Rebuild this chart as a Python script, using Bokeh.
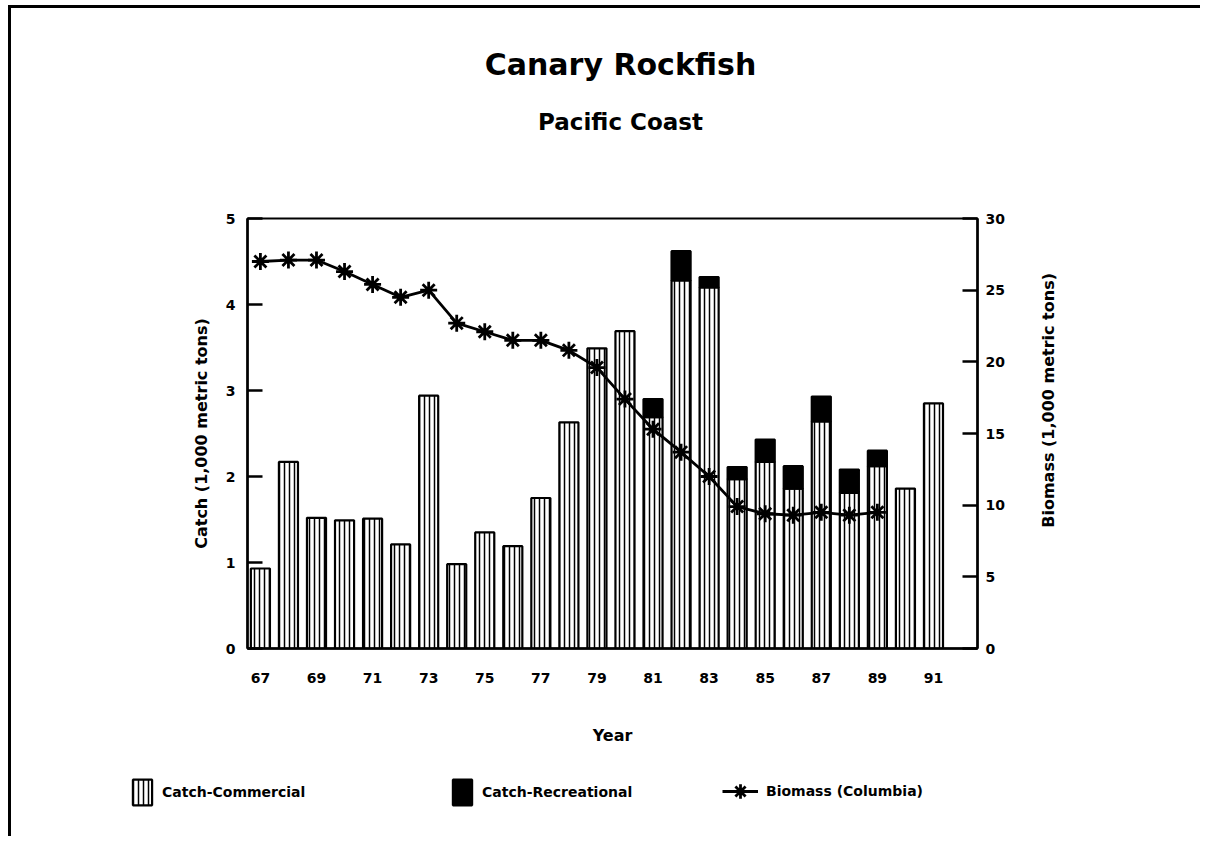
import math
from bokeh.plotting import figure
from bokeh.layouts import column, row
from bokeh.models import Range1d, LinearAxis, FixedTicker, Legend, LegendItem, Label
from bokeh.embed import file_html
from bokeh.resources import INLINE

# ---------------- data ----------------
years = list(range(67, 92))
commercial = [0.93, 2.17, 1.52, 1.49, 1.51, 1.21, 2.94, 0.98, 1.35, 1.19,
              1.75, 2.63, 3.49, 3.69, 2.69, 4.28, 4.20, 1.97, 2.17, 1.86,
              2.64, 1.81, 2.12, 1.86, 2.85]
recreational = [0, 0, 0, 0, 0, 0, 0, 0, 0, 0,
                0, 0, 0, 0, 0.21, 0.34, 0.12, 0.14, 0.26, 0.26,
                0.29, 0.27, 0.18, 0, 0]
bio_years = list(range(67, 90))
biomass = [27.0, 27.1, 27.1, 26.3, 25.4, 24.5, 25.0, 22.7, 22.1, 21.5,
           21.5, 20.8, 19.6, 17.4, 15.3, 13.7, 12.0, 9.9, 9.4, 9.3,
           9.5, 9.3, 9.5]
year_ticks = list(range(67, 92, 2))
left_ticks = [0, 1, 2, 3, 4, 5]
right_ticks = [0, 5, 10, 15, 20, 25, 30]
series_names = ["Catch-Commercial", "Catch-Recreational", "Biomass (Columbia)"]
title_text = "Canary Rockfish"
subtitle_text = "Pacific Coast"

# ---------------- layout (page px) ----------------
FONT = "DejaVu Sans"
OFFX, OFFY = 11, 8           # content origin on the page
TOTAL_W = 1189
TOP_B = 150                  # bottom of title strip
MAIN_R, MAIN_B = 1030, 760   # right / bottom edge of main figure
STRIP_W = 36
TOTAL_B = 836
FL, FR, FT, FB = 247, 977, 218, 648
X0, X1 = 66.54, 92.57


def bare(fig):
    fig.title.visible = False
    fig.xgrid.visible = False
    fig.ygrid.visible = False
    fig.outline_line_color = None
    fig.background_fill_color = "white"
    fig.border_fill_color = "white"
    fig.min_border = 0
    fig.min_border_left = 0
    fig.min_border_right = 0
    fig.min_border_top = 0
    fig.min_border_bottom = 0


def text_label(fig, x, y, text, size, angle=0.0):
    fig.add_layout(Label(x=x, y=y, text=text, angle=angle, text_align="center",
                         text_baseline="middle", text_font=FONT,
                         text_font_style="bold", text_font_size=size,
                         text_color="black"))


# ---- title strip ----
TH = TOP_B - OFFY
pt = figure(width=TOTAL_W, height=TH, x_range=Range1d(0, TOTAL_W), y_range=Range1d(0, TH),
            x_axis_type=None, y_axis_type=None, output_backend="svg",
            toolbar_location=None)
bare(pt)
text_label(pt, 620 - OFFX, TOP_B - 64, title_text, "30px")
text_label(pt, 620 - OFFX, TOP_B - 121, subtitle_text, "23px")

# ---- main chart ----
MW, MH = MAIN_R - OFFX, MAIN_B - TOP_B
p = figure(width=MW, height=MH, x_range=Range1d(X0, X1), y_range=Range1d(0, 5),
           output_backend="svg", toolbar_location=None,
           min_border_left=FL - OFFX, min_border_right=MAIN_R - FR,
           min_border_top=FT - TOP_B, min_border_bottom=MAIN_B - FB)
p.title.visible = False
p.extra_y_ranges = {"bio": Range1d(0, 30)}
p.xgrid.visible = False
p.ygrid.visible = False
p.outline_line_color = "black"
p.outline_line_width = 2
p.background_fill_color = "white"
p.border_fill_color = "white"

COM = dict(fill_color="white", line_color="black", line_width=2.2, hatch_pattern="|",
           hatch_color="black", hatch_scale=5, hatch_weight=1.5)
REC = dict(fill_color="black", line_color="black", line_width=2.2)
LINE = dict(line_color="black", line_width=2.8)
STAR = dict(marker="asterisk", size=17, line_color="black", line_width=2.8)

tot = [c + r for c, r in zip(commercial, recreational)]
rec_x = [y for y, r in zip(years, recreational) if r > 0]
rec_b = [c for c, r in zip(commercial, recreational) if r > 0]
rec_t = [t for t, r in zip(tot, recreational) if r > 0]

p.vbar(x=years, top=commercial, width=0.68, **COM)
p.vbar(x=rec_x, bottom=rec_b, top=rec_t, width=0.68, **REC)
p.line(x=bio_years, y=biomass, y_range_name="bio", **LINE)
p.scatter(x=bio_years, y=biomass, y_range_name="bio", **STAR)


def style_axis(ax):
    ax.axis_line_color = "black"
    ax.axis_line_width = 2.5
    ax.major_tick_line_color = "black"
    ax.major_tick_line_width = 2.5
    ax.minor_tick_line_color = None
    ax.major_label_text_font = FONT
    ax.major_label_text_font_style = "bold"
    ax.major_label_text_font_size = "14px"
    ax.major_label_text_color = "black"
    ax.axis_label_text_font = FONT
    ax.axis_label_text_font_style = "bold"
    ax.axis_label_text_font_size = "16px"
    ax.axis_label_text_color = "black"


xa = p.xaxis[0]
style_axis(xa)
xa.ticker = FixedTicker(ticks=year_ticks)
xa.major_tick_in = 0
xa.major_tick_out = 0
xa.major_label_standoff = 24
xa.axis_label = "Year"
xa.axis_label_standoff = 40

ya = p.yaxis[0]
style_axis(ya)
ya.ticker = FixedTicker(ticks=left_ticks)
ya.major_tick_in = 15
ya.major_tick_out = 0
ya.major_label_standoff = 12
ya.axis_label = "Catch (1,000 metric tons)"
ya.axis_label_standoff = 12

ra = LinearAxis(y_range_name="bio", ticker=FixedTicker(ticks=right_ticks))
style_axis(ra)
ra.major_tick_in = 15
ra.major_tick_out = 0
ra.major_label_standoff = 8
p.add_layout(ra, "right")

# ---- right axis title strip (reads bottom to top) ----
pr = figure(width=STRIP_W, height=MH, x_range=Range1d(0, 1), y_range=Range1d(0, MH),
            x_axis_type=None, y_axis_type=None, output_backend="svg",
            toolbar_location=None)
bare(pr)
text_label(pr, 0.5, MAIN_B - 408, "Biomass (1,000 metric tons)", "16px", angle=math.pi / 2)

# ---- legend strip ----
LH = TOTAL_B - MAIN_B
pl = figure(width=TOTAL_W, height=LH, x_range=Range1d(X0, X1), y_range=Range1d(0, 5),
            x_axis_type=None, y_axis_type=None, output_backend="svg",
            toolbar_location=None)
bare(pl)
# hidden copies of the series; they only supply the legend glyphs
lr_com = pl.vbar(x=years, top=commercial, width=0.68, visible=False, **COM)
lr_rec = pl.vbar(x=rec_x, bottom=rec_b, top=rec_t, width=0.68, visible=False, **REC)
lr_line = pl.line(x=bio_years, y=biomass, visible=False, **LINE)
lr_star = pl.scatter(x=bio_years, y=biomass, visible=False, **STAR)


def make_legend(label, renderers, left_px, bottom_px, gw=24, gh=32):
    lg = Legend(items=[LegendItem(label=label, renderers=renderers)],
                location=(left_px - OFFX, TOTAL_B - bottom_px))
    lg.border_line_color = None
    lg.background_fill_alpha = 0
    lg.inactive_fill_alpha = 0
    lg.padding = 0
    lg.margin = 0
    lg.glyph_width = gw
    lg.glyph_height = gh
    lg.label_standoff = 8
    lg.label_text_font = FONT
    lg.label_text_font_style = "bold"
    lg.label_text_font_size = "14px"
    lg.label_text_color = "black"
    pl.add_layout(lg, "center")


make_legend(series_names[0], [lr_com], 130, 808)
make_legend(series_names[1], [lr_rec], 450, 808)
make_legend(series_names[2], [lr_line, lr_star], 722, 812, gw=36, gh=42)

layout = column(pt, row(p, pr), pl)
layout.styles = {"border-left": "3px solid black", "border-top": "3px solid black",
                 "margin-left": "8px", "margin-top": "5px"}

open("out.html", "w").write(file_html(layout, INLINE))
